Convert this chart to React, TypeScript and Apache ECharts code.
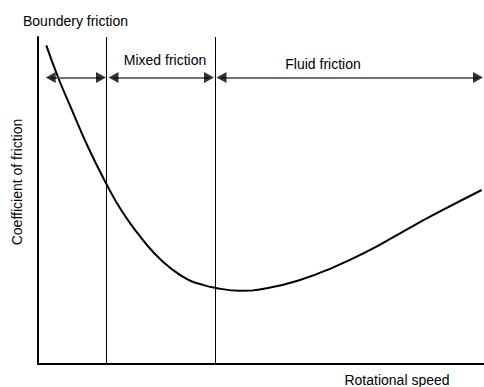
import React, { useEffect, useRef } from "react";
import * as echarts from "echarts";

// Curve: Stribeck curve, x = rotational speed (0..100), y = coefficient of friction (0..100)
const curveX = [1.86, 4.48, 7.47, 11.21, 15.31, 18.68, 22.42, 26.17, 29.89, 33.63, 36.32, 39.62, 45.29, 51.28, 58.74, 66.21, 73.7, 81.17, 88.63, 99.48];
const curveY = [97.46, 87.77, 78.07, 66.36, 55.14, 47.0, 39.85, 33.73, 29.14, 25.78, 24.46, 23.33, 22.42, 23.15, 25.69, 29.57, 34.34, 39.97, 45.57, 53.21];

// Regime boundaries (x positions)
const boundaries = [15.25, 39.7];

// Arrow segments [start, end] at level arrowLevel
const arrowStarts = [2.85, 16.93, 41.14];
const arrowEnds = [14.13, 38.34, 98.65];
const arrowLevel = 87.6;

const regimeLabels = ["Boundery friction", "Mixed friction", "Fluid friction"];
const xAxisName = "Rotational speed";
const yAxisName = "Coefficient of friction";

export default function App() {
  const ref = useRef<HTMLDivElement>(null);
  useEffect(() => {
    if (!ref.current) return;
    const chart = echarts.init(ref.current, undefined, { renderer: "svg" });
    const font = "'Liberation Sans', Arial, sans-serif";
    const textStyle = (text: string, x: number, y: number, extra: any = {}) => ({
      type: "text",
      x,
      y,
      ...extra,
      style: {
        text,
        fill: "#000",
        font: `14px ${font}`,
        textAlign: "center",
        textVerticalAlign: "middle",
      },
    });
    const heads = [
      ...arrowStarts.map((s) => ({ value: [s, arrowLevel], symbolRotate: 90 })),
      ...arrowEnds.map((e) => ({ value: [e, arrowLevel], symbolRotate: -90 })),
    ];
    chart.setOption({
      animation: false,
      grid: { left: 38, right: 0, top: 37, bottom: 23 },
      xAxis: {
        type: "value",
        min: 0,
        max: 100,
        axisLine: { show: true, lineStyle: { color: "#000", width: 2 } },
        axisTick: { show: false },
        axisLabel: { show: false },
        splitLine: { show: false },
      },
      yAxis: {
        type: "value",
        min: 0,
        max: 100,
        axisLine: { show: true, lineStyle: { color: "#000", width: 2 } },
        axisTick: { show: false },
        axisLabel: { show: false },
        splitLine: { show: false },
      },
      series: [
        {
          type: "line",
          data: curveX.map((x, i) => [x, curveY[i]]),
          smooth: 0.5,
          showSymbol: false,
          lineStyle: { color: "#000", width: 2 },
          markLine: {
            silent: true,
            symbol: "none",
            label: { show: false },
            lineStyle: { color: "#000", width: 1, type: "solid" },
            data: boundaries.map((b) => ({ xAxis: b })),
          },
        },
        {
          type: "line",
          data: [],
          markLine: {
            silent: true,
            symbol: "none",
            label: { show: false },
            lineStyle: { color: "#444", width: 1.5, type: "solid" },
            data: arrowStarts.map((s, i) => [
              { coord: [s, arrowLevel] },
              { coord: [arrowEnds[i], arrowLevel] },
            ]),
          },
        },
        {
          type: "scatter",
          silent: true,
          symbol: "triangle",
          symbolSize: [11, 10],
          itemStyle: { color: "#000" },
          data: heads,
          z: 5,
        },
      ],
      graphic: [
        textStyle(regimeLabels[0], 75.5, 21),
        textStyle(regimeLabels[1], 165, 60),
        textStyle(regimeLabels[2], 323, 64),
        textStyle(xAxisName, 397, 380),
        textStyle(yAxisName, 17, 182, { rotation: Math.PI / 2 }),
      ],
    });
    return () => chart.dispose();
  }, []);
  return (
    <div
      ref={ref}
      style={{ position: "fixed", left: 0, top: 0, width: 484, height: 387, background: "#fff" }}
    />
  );
}
